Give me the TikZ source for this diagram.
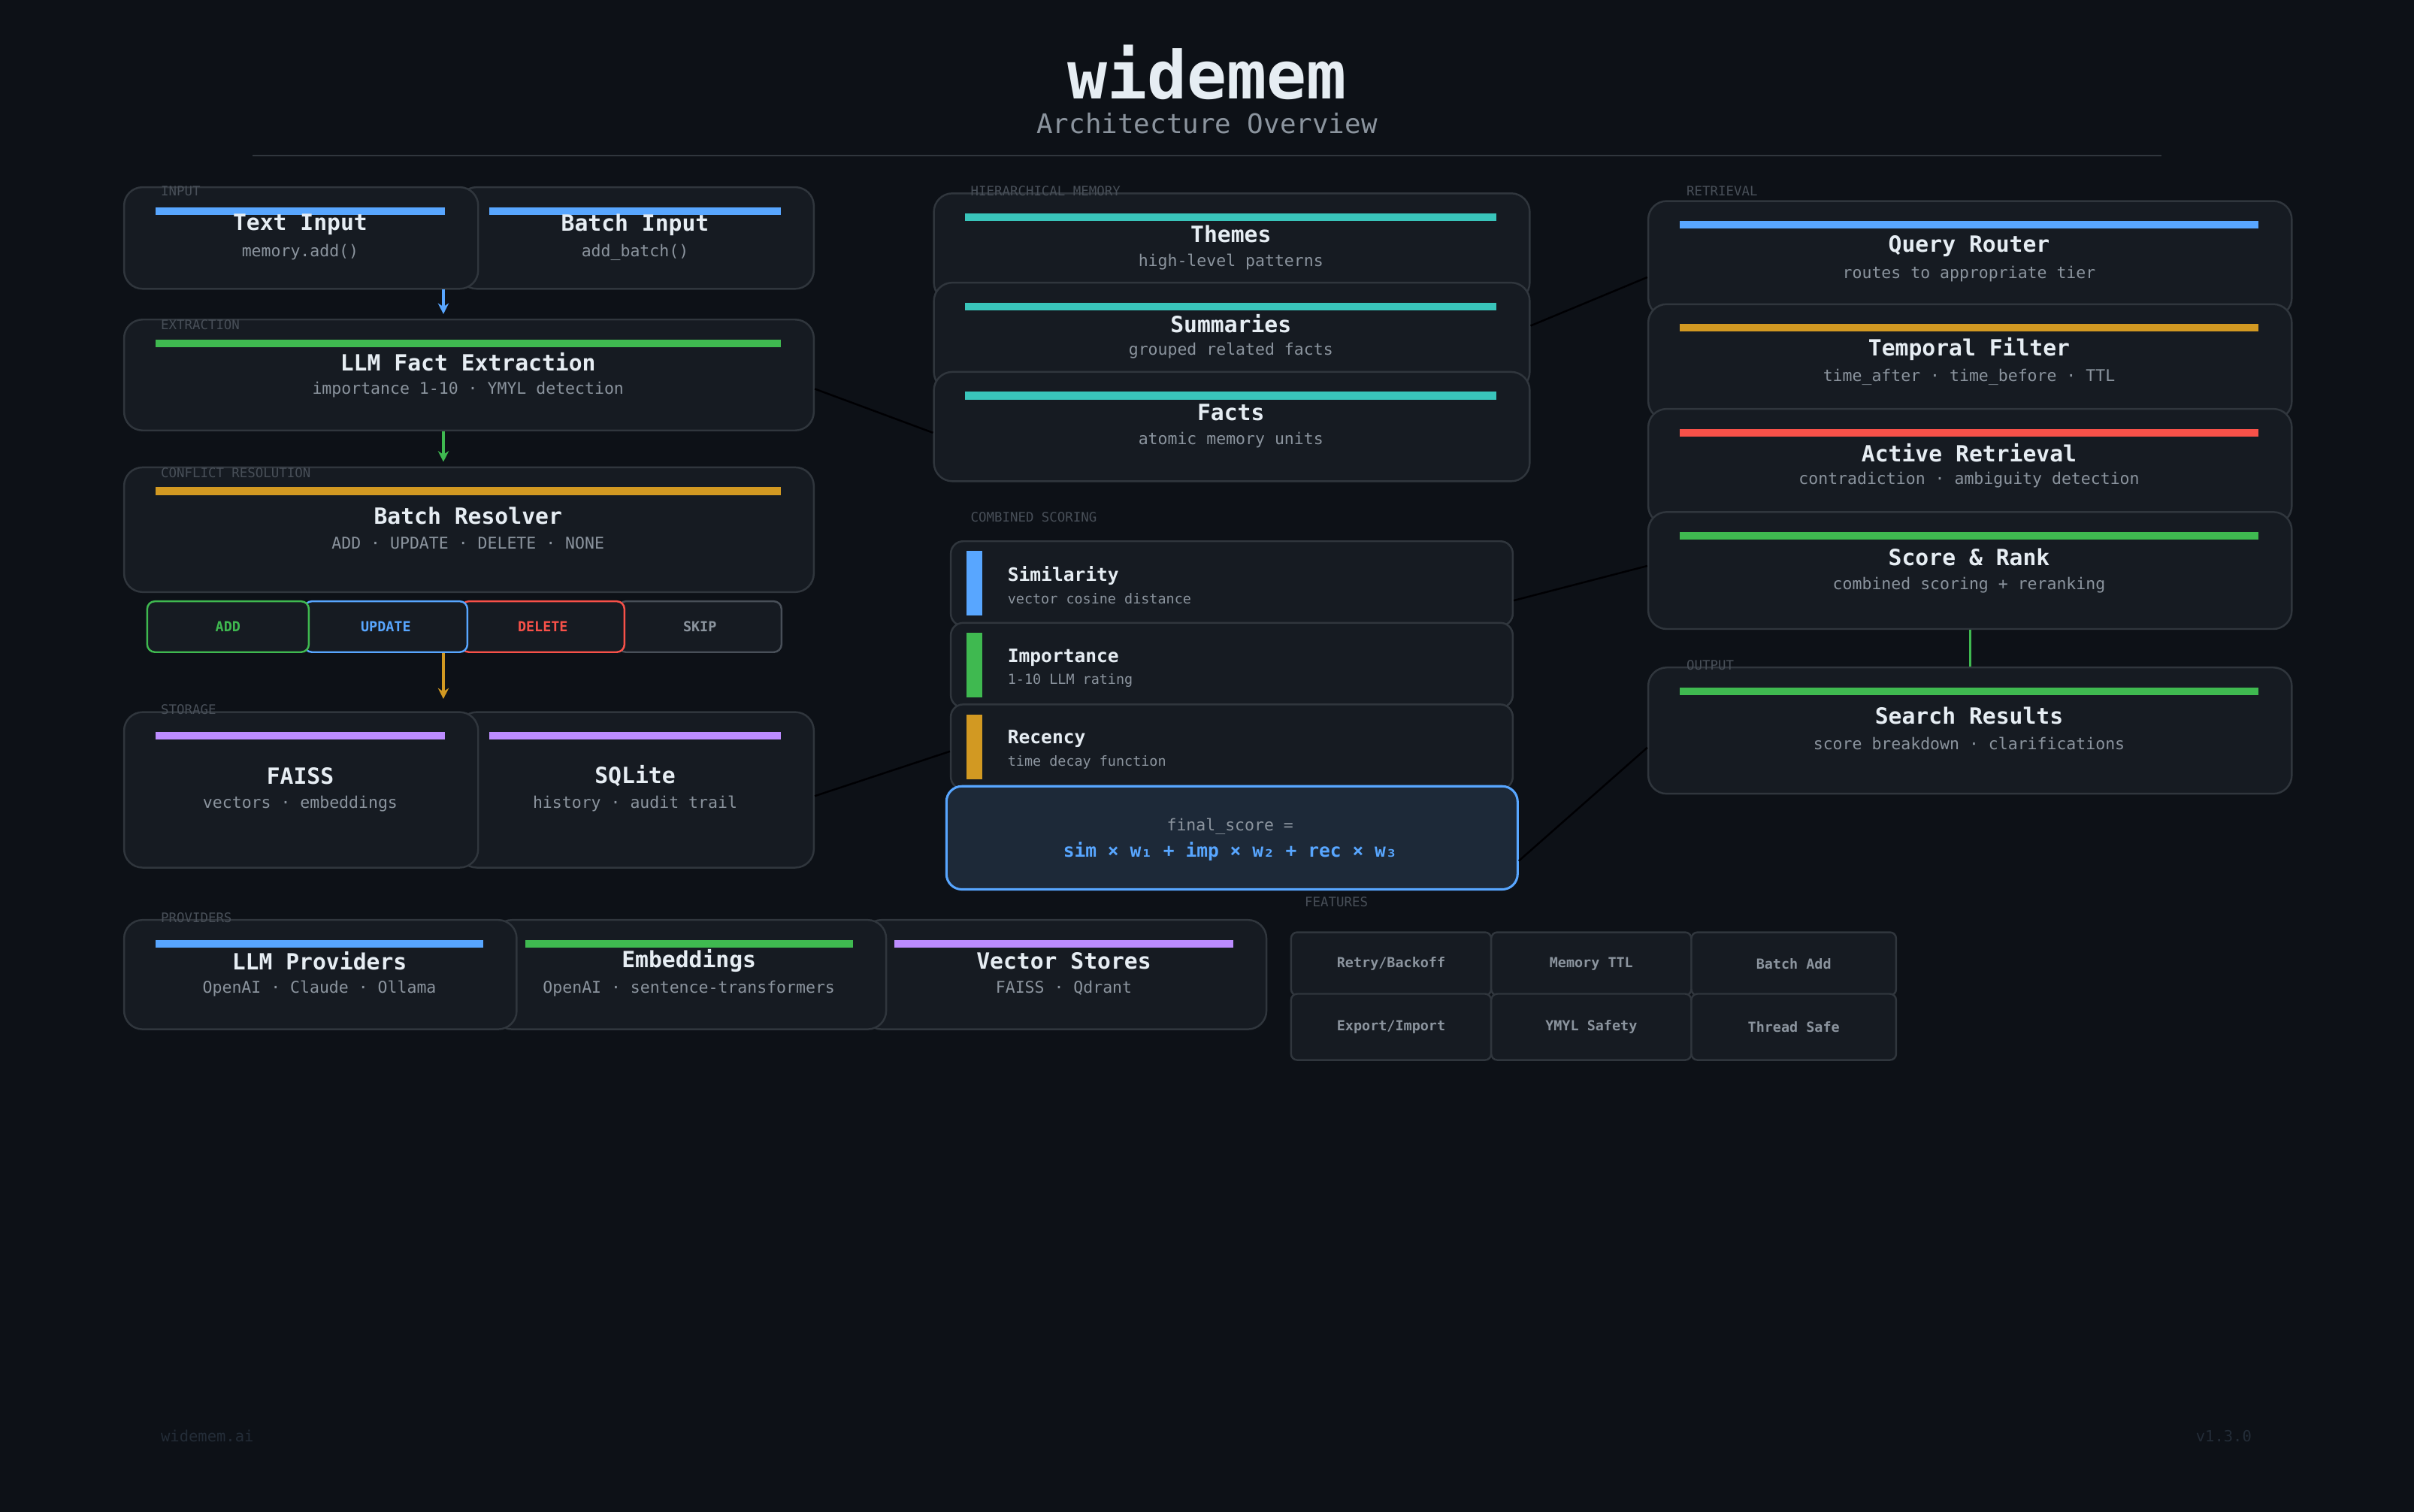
\documentclass[tikz,border=0pt]{standalone}
\usepackage{fontspec}
\setmonofont{DejaVu Sans Mono}
\usetikzlibrary{arrows.meta}
\definecolor{bg}{HTML}{0D1117}
\definecolor{cardbg}{HTML}{161B22}
\definecolor{bd}{HTML}{30363D}
\definecolor{tw}{HTML}{E6EDF3}
\definecolor{tg}{HTML}{8B949E}
\definecolor{tl}{HTML}{484F58}
\definecolor{cb}{HTML}{58A6FF}
\definecolor{cg}{HTML}{3FB950}
\definecolor{co}{HTML}{D29922}
\definecolor{cr}{HTML}{F85149}
\definecolor{cp}{HTML}{BC8CFF}
\definecolor{ct}{HTML}{39C5BB}
\tikzset{
 card/.style={draw=bd, fill=cardbg, rounded corners=12, line width=1.2, inner sep=0, anchor=north west},
 ttl/.style={text=tw, font=\ttfamily\bfseries\fontsize{14.5}{16}\selectfont},
 subt/.style={text=tg, font=\ttfamily\fontsize{10.5}{12}\selectfont},
 lbl/.style={text=tl, font=\ttfamily\fontsize{8.5}{10}\selectfont, anchor=west},
 btn/.style={rounded corners=5, line width=1.2, fill=cardbg, inner sep=0, anchor=north west, minimum height=33, font=\ttfamily\bfseries\fontsize{9}{10}\selectfont},
 feat/.style={draw=bd, fill=cardbg, rounded corners=4, line width=1.2, inner sep=0, anchor=north west, text=tg, font=\ttfamily\bfseries\fontsize{9}{10}\selectfont},
 conn/.style={draw=bd!130, line width=1.2},
 arr/.style={line width=1.5, -{Stealth[length=7,width=7]}}
}
\newcommand\card[9]{%
 \node[card, minimum width={#4-#2}, minimum height={#5-#3}] (#1) at (#2,#3) {};
 \fill[#6] (#2+21,#3+13.5) rectangle (#4-21,#3+18.5);
 \node[ttl] at ({(#2+#4)/2},#3+#9) {#7};
 \node[subt] at ({(#2+#4)/2},#3+#9+18) {#8};}
\newcommand\scorerow[6]{%
 \node[card, rounded corners=8, minimum width=365, minimum height=55] (#1) at (617,#2) {};
 \fill[#3] (628,#2+7) rectangle (638,#2+49);
 \node[text=tw, anchor=west, font=\ttfamily\bfseries\fontsize{12}{14}\selectfont] at (651,#2+#6) {#4};
 \node[text=tg, anchor=west, font=\ttfamily\fontsize{9}{10}\selectfont] at (651,#2+#6+15) {#5};}
\begin{document}
\begin{tikzpicture}[x=1pt,y=-1pt]
\fill[bg] (0,0) rectangle (1568,982);
\useasboundingbox (0,0) rectangle (1568,982);
% title
\node[text=tw, font=\ttfamily\bfseries\fontsize{43}{48}\selectfont] (title) at (784,47) {widemem};
\node[text=tg, font=\ttfamily\fontsize{17.5}{20}\selectfont] (subtitle) at (784,80) {Architecture Overview};
\draw[bd, line width=1.2] (164,101) -- (1404,101);
% left column
\card{batchin}{297}{121}{528}{187}{cb}{Batch Input}{add\_batch()}{25}
\card{textin}{80}{121}{310}{187}{cb}{Text Input}{memory.add()}{25}
\node[lbl] at (101,124) {INPUT};
\card{extract}{80}{207}{528}{279}{cg}{LLM Fact Extraction}{importance 1-10 · YMYL detection}{28}
\node[lbl] at (101,211) {EXTRACTION};
\card{resolver}{80}{303}{528}{384}{co}{Batch Resolver}{ADD · UPDATE · DELETE · NONE}{32}
\node[lbl] at (101,307) {CONFLICT RESOLUTION};
\node[btn, draw=tl, text=tg, minimum width=106] (skip) at (401,390) {SKIP};
\node[btn, draw=cr, text=cr, minimum width=106] (delete) at (299,390) {DELETE};
\node[btn, draw=cb, text=cb, minimum width=106] (update) at (197,390) {UPDATE};
\node[btn, draw=cg, text=cg, minimum width=105] (add) at (95,390) {ADD};
\coordinate (a1) at (288,188); \coordinate (a2) at (288,204);
\coordinate (b1) at (288,280); \coordinate (b2) at (288,300);
\coordinate (c1) at (288,424); \coordinate (c2) at (288,454);
\draw[arr, cb] (a1) -- (a2);
\draw[arr, cg] (b1) -- (b2);
\draw[arr, co] (c1) -- (c2);
\card{sqlite}{297}{462}{528}{563}{cp}{SQLite}{history · audit trail}{42}
\card{faiss}{80}{462}{310}{563}{cp}{FAISS}{vectors · embeddings}{42}
\node[lbl] at (101,461) {STORAGE};
\card{vstores}{560}{597}{822}{668}{cp}{Vector Stores}{FAISS · Qdrant}{27}
\card{embed}{320}{597}{575}{668}{cg}{Embeddings}{OpenAI · sentence-transformers}{27}
\card{llmprov}{80}{597}{335}{668}{cb}{LLM Providers}{OpenAI · Claude · Ollama}{27}
\node[lbl] at (101,596) {PROVIDERS};
% middle
\card{themes}{606}{125}{993}{195}{ct}{Themes}{high-level patterns}{27}
\card{summ}{606}{183}{993}{253}{ct}{Summaries}{grouped related facts}{27}
\card{facts}{606}{241}{993}{312}{ct}{Facts}{atomic memory units}{27}
\node[lbl] at (627,124) {HIERARCHICAL MEMORY};
\node[lbl] at (627,336) {COMBINED SCORING};
\scorerow{sim}{351}{cb}{Similarity}{vector cosine distance}{23}
\scorerow{imp}{404}{cg}{Importance}{1-10 LLM rating}{23}
\scorerow{rec}{457}{co}{Recency}{time decay function}{23}
\node[draw=cb, fill=cardbg!90!cb, rounded corners=10, line width=1.5, inner sep=0, anchor=north west, minimum width=371, minimum height=67] (formula) at (614,510) {};
\node[text=tg, font=\ttfamily\fontsize{10.5}{12}\selectfont] at (799,537) {final\_score =};
\node[text=cb, font=\ttfamily\bfseries\fontsize{12}{14}\selectfont] at (799,553) {sim × w₁ + imp × w₂ + rec × w₃};
\node[lbl] at (844,586) {FEATURES};
\node[feat, minimum width=130, minimum height=41] (f1) at (838,605) {Retry/Backoff};
\node[feat, minimum width=130, minimum height=41] (f2) at (968,605) {Memory TTL};
\node[feat, minimum width=133, minimum height=41] (f3) at (1098,605) {Batch Add};
\node[feat, minimum width=130, minimum height=43] (f4) at (838,645) {Export/Import};
\node[feat, minimum width=130, minimum height=43] (f5) at (968,645) {YMYL Safety};
\node[feat, minimum width=133, minimum height=43] (f6) at (1098,645) {Thread Safe};
% right
\card{router}{1070}{130}{1488}{205}{cb}{Query Router}{routes to appropriate tier}{30}
\card{temporal}{1070}{197}{1488}{272}{co}{Temporal Filter}{time\_after · time\_before · TTL}{30}
\card{active}{1070}{265}{1488}{340}{cr}{Active Retrieval}{contradiction · ambiguity detection}{29}
\card{score}{1070}{332}{1488}{408}{cg}{Score \& Rank}{combined scoring + reranking}{30}
\node[lbl] at (1092,124) {RETRIEVAL};
\card{results}{1070}{433}{1488}{515}{cg}{Search Results}{score breakdown · clarifications}{32}
\node[lbl] at (1092,432) {OUTPUT};
\draw[cg, line width=1.5] (score.south) -- (results.north);
% connectors
\draw[conn] ([yshift=-9]extract.east) -- ([yshift=-4]facts.west);
\draw[conn] ([yshift=7]summ.east) -- ([yshift=-12]router.west);
\draw[conn] ([yshift=-4]sqlite.east) -- ([yshift=-3]rec.west);
\draw[conn] ([yshift=-11]sim.east) -- ([yshift=3]score.west);
\draw[conn] ([yshift=-15]formula.east) -- ([yshift=-11]results.west);
% footer
\node[lbl, text=tl!120, font=\ttfamily\fontsize{10}{12}\selectfont] (foot1) at (101,933) {widemem.ai};
\node[lbl, anchor=east, text=tl!120, font=\ttfamily\fontsize{10}{12}\selectfont] (foot2) at (1466,933) {v1.3.0};
\end{tikzpicture}
\end{document}
